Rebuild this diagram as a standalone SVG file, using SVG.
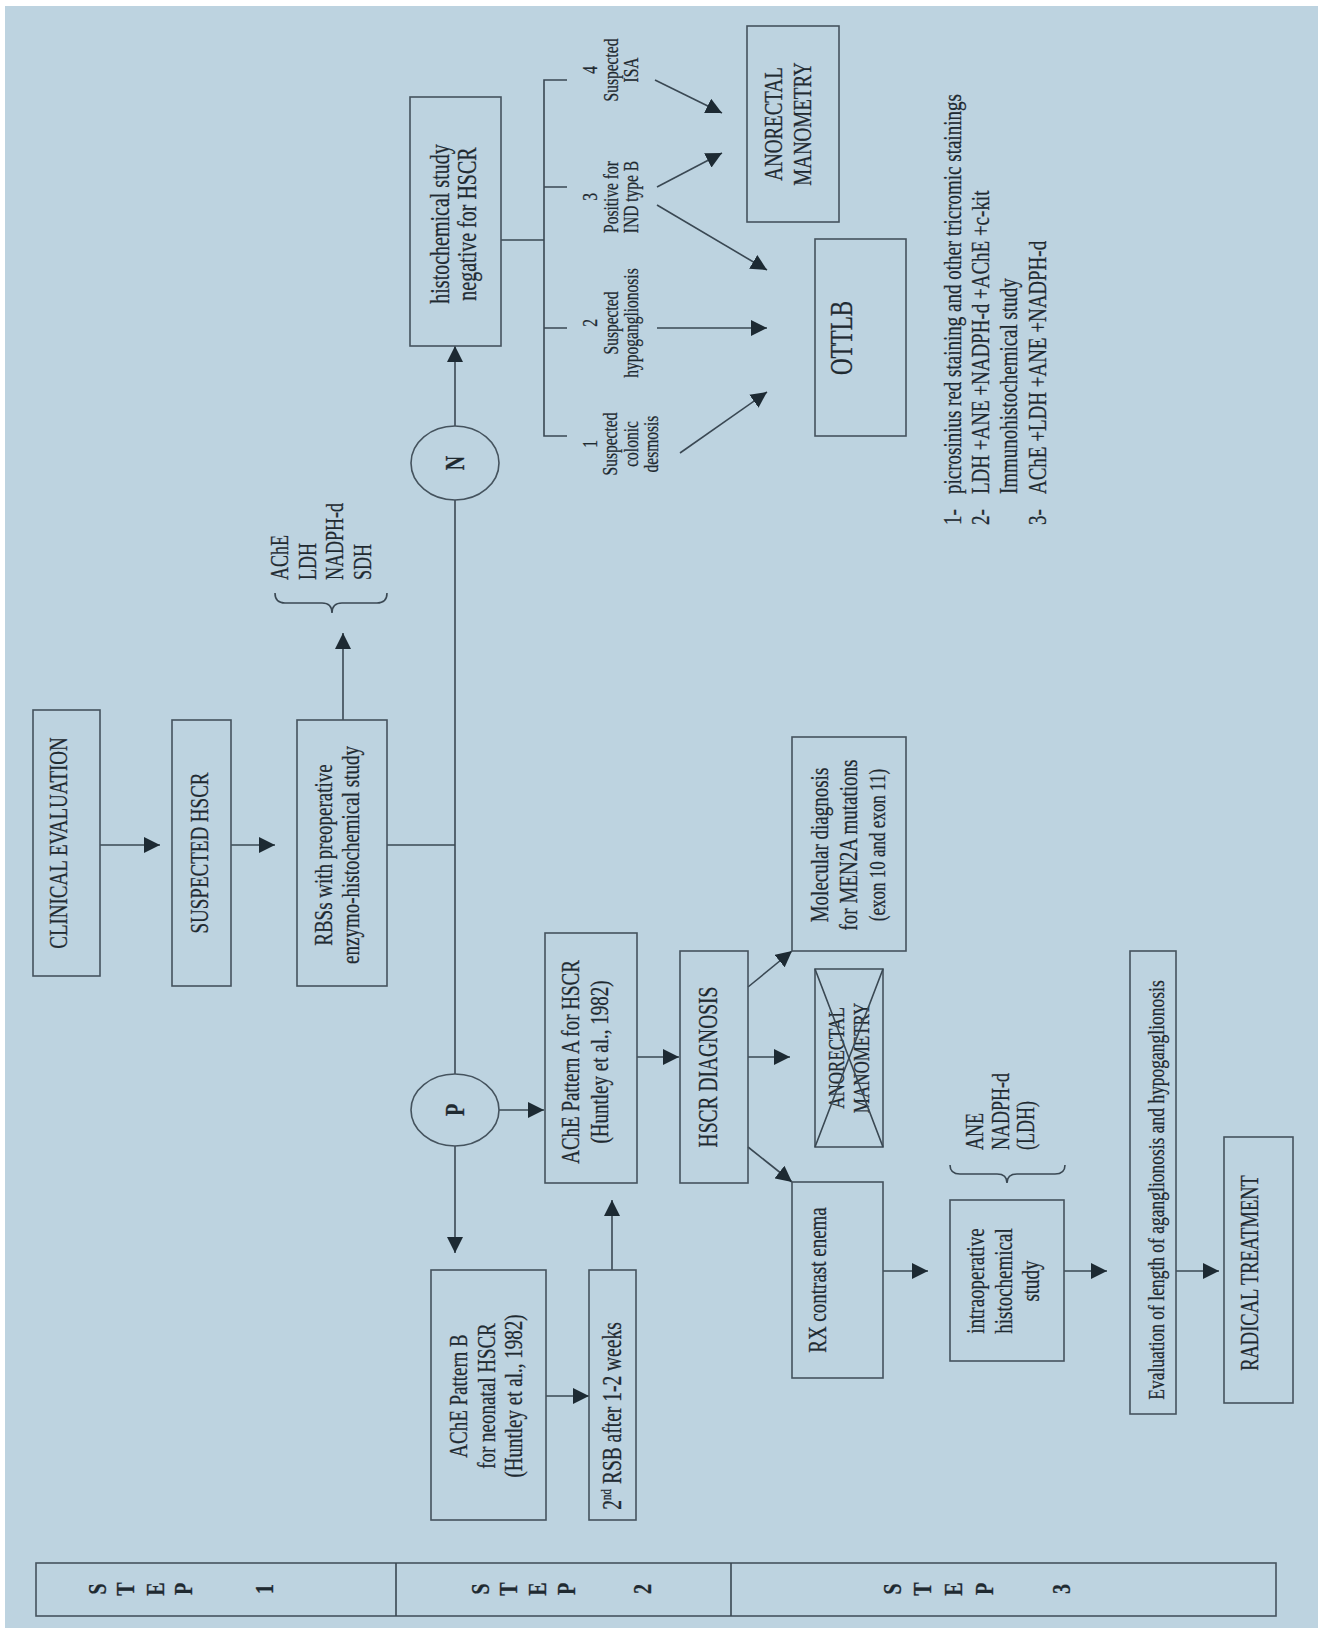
<svg xmlns="http://www.w3.org/2000/svg" width="1318" height="1628" viewBox="0 0 1318 1628">
<defs>
<style>
.bg{fill:#bdd3e0}
.box{fill:none;stroke:#45535e;stroke-width:1.6}
.ln{fill:none;stroke:#3a4853;stroke-width:1.6}
.t{font-family:"Liberation Serif","Times New Roman",serif;fill:#1f2a31;stroke:#1f2a31;stroke-width:0.2}
.b{font-weight:bold}
</style>
<marker id="ah" viewBox="0 0 16 16" refX="16" refY="8" markerWidth="16" markerHeight="16" markerUnits="userSpaceOnUse" orient="auto">
<path d="M0,0 L16,8 L0,16 Z" fill="#1d2a33"/>
</marker>
</defs>
<rect x="0" y="0" width="1318" height="1628" fill="#ffffff"/>
<rect class="bg" x="5" y="6" width="1313" height="1622"/>

<g id="connectors">
<path class="ln" d="M100,845 H160" marker-end="url(#ah)"/>
<path class="ln" d="M231,845 H275" marker-end="url(#ah)"/>
<path class="ln" d="M343,720 V633" marker-end="url(#ah)"/>
<path class="ln" d="M387,845 H455"/>
<path class="ln" d="M455,500 V1074"/>
<path class="ln" d="M455,426 V346" marker-end="url(#ah)"/>
<path class="ln" d="M501,240 H544"/>
<path class="ln" d="M567,80 H544 V436 H567 M544,187 H567 M544,328 H567"/>
<path class="ln" d="M655,80 L722,113" marker-end="url(#ah)"/>
<path class="ln" d="M657,187 L722,153" marker-end="url(#ah)"/>
<path class="ln" d="M657,205 L767,270" marker-end="url(#ah)"/>
<path class="ln" d="M657,328 H767" marker-end="url(#ah)"/>
<path class="ln" d="M680,453 L767,392" marker-end="url(#ah)"/>
<path class="ln" d="M455,1146 V1253" marker-end="url(#ah)"/>
<path class="ln" d="M499,1110 H544" marker-end="url(#ah)"/>
<path class="ln" d="M546,1396 H589" marker-end="url(#ah)"/>
<path class="ln" d="M612,1270 V1200" marker-end="url(#ah)"/>
<path class="ln" d="M637,1057 H679" marker-end="url(#ah)"/>
<path class="ln" d="M748,1057 H790" marker-end="url(#ah)"/>
<path class="ln" d="M748,987 L792,951" marker-end="url(#ah)"/>
<path class="ln" d="M748,1147 L792,1182" marker-end="url(#ah)"/>
<path class="ln" d="M883,1271 H928" marker-end="url(#ah)"/>
<path class="ln" d="M1064,1271 H1107" marker-end="url(#ah)"/>
<path class="ln" d="M1176,1271 H1219" marker-end="url(#ah)"/>
<path class="ln" d="M275,593 Q275,603 285,603 L322,603 Q332,603 332,613 Q332,603 342,603 L377,603 Q387,603 387,593"/>
<path class="ln" d="M950,1165 Q950,1174 960,1174 L997,1174 Q1007,1174 1007,1183 Q1007,1174 1017,1174 L1055,1174 Q1065,1174 1065,1165"/>
</g>

<g id="clinical-evaluation">
<rect class="box" x="33" y="710" width="67" height="266"/>
<text class="t" font-size="19" text-anchor="middle" transform="translate(58,843) rotate(-90) scale(1,1.35)"><tspan x="0" y="6.3">CLINICAL EVALUATION</tspan></text>
</g>

<g id="suspected-hscr">
<rect class="box" x="172" y="720" width="59" height="266"/>
<text class="t" font-size="19" text-anchor="middle" transform="translate(199,853) rotate(-90) scale(1,1.35)"><tspan x="0" y="6.3">SUSPECTED HSCR</tspan></text>
</g>

<g id="rbss">
<rect class="box" x="297" y="720" width="90" height="266"/>
<text class="t" font-size="19" text-anchor="middle" transform="translate(337,855) rotate(-90) scale(1,1.35)"><tspan x="0" y="-3.7">RBSs with preoperative</tspan><tspan x="0" y="16.3">enzymo-histochemical study</tspan></text>
</g>

<g id="enzymes-1">
<text class="t" font-size="18" text-anchor="start" transform="translate(280,580) rotate(-90) scale(1,1.35)"><tspan x="0" y="5.9">AChE</tspan><tspan x="0" y="26.4">LDH</tspan><tspan x="0" y="46.9">NADPH-d</tspan><tspan x="0" y="67.4">SDH</tspan></text>
</g>

<g id="node-n">
<ellipse class="box" cx="455" cy="463" rx="44" ry="37"/>
<text class="t b" font-size="20" text-anchor="middle" transform="translate(455,463) rotate(-90) scale(1,1.35)"><tspan x="0" y="6.6">N</tspan></text>
</g>

<g id="histochemical-negative">
<rect class="box" x="410" y="97" width="91" height="249"/>
<text class="t" font-size="20" text-anchor="middle" transform="translate(454,224) rotate(-90) scale(1,1.35)"><tspan x="0" y="-3.4">histochemical study</tspan><tspan x="0" y="16.6">negative for HSCR</tspan></text>
</g>

<g id="label-4">
<text class="t" font-size="15.5" text-anchor="middle" transform="translate(611,70) rotate(-90) scale(1,1.3)"><tspan x="0" y="-10.6">4</tspan><tspan x="0" y="5.1">Suspected</tspan><tspan x="0" y="20.8">ISA</tspan></text>
</g>
<g id="label-3">
<text class="t" font-size="15.5" text-anchor="middle" transform="translate(611,197) rotate(-90) scale(1,1.3)"><tspan x="0" y="-10.6">3</tspan><tspan x="0" y="5.1">Positive for</tspan><tspan x="0" y="20.8">IND type B</tspan></text>
</g>
<g id="label-2">
<text class="t" font-size="15.5" text-anchor="middle" transform="translate(611,323) rotate(-90) scale(1,1.3)"><tspan x="0" y="-10.6">2</tspan><tspan x="0" y="5.1">Suspected</tspan><tspan x="0" y="20.8">hypoganglionosis</tspan></text>
</g>
<g id="label-1">
<text class="t" font-size="15.5" text-anchor="middle" transform="translate(621,444) rotate(-90) scale(1,1.3)"><tspan x="0" y="-18.4">1</tspan><tspan x="0" y="-2.7">Suspected</tspan><tspan x="0" y="13">colonic</tspan><tspan x="0" y="28.7">desmosis</tspan></text>
</g>

<g id="anorectal-manometry">
<rect class="box" x="747" y="26" width="92" height="196"/>
<text class="t" font-size="19" text-anchor="middle" transform="translate(788,124) rotate(-90) scale(1,1.35)"><tspan x="0" y="-4.7">ANORECTAL</tspan><tspan x="0" y="17.3">MANOMETRY</tspan></text>
</g>

<g id="ottlb">
<rect class="box" x="815" y="239" width="91" height="197"/>
<text class="t" font-size="23" text-anchor="middle" transform="translate(842,338) rotate(-90) scale(1,1.35)"><tspan x="0" y="7.6">OTTLB</tspan></text>
</g>

<g id="footnotes">
<text class="t" font-size="19" text-anchor="start" transform="translate(952,525) rotate(-90) scale(1,1.35)"><tspan x="0" y="6.3">1-</tspan><tspan x="31" y="6.3">picrosinius red staining and other tricromic stainings</tspan><tspan x="0" y="27.3">2-</tspan><tspan x="31" y="27.3">LDH +ANE +NADPH-d +AChE +c-kit</tspan><tspan x="31" y="48.3">Immunohistochemical study</tspan><tspan x="0" y="69.3">3-</tspan><tspan x="31" y="69.3">AChE +LDH +ANE +NADPH-d</tspan></text>
</g>

<g id="node-p">
<ellipse class="box" cx="455" cy="1110" rx="44" ry="36"/>
<text class="t b" font-size="20" text-anchor="middle" transform="translate(455,1110) rotate(-90) scale(1,1.35)"><tspan x="0" y="6.6">P</tspan></text>
</g>

<g id="pattern-a">
<rect class="box" x="545" y="933" width="92" height="250"/>
<text class="t" font-size="19" text-anchor="middle" transform="translate(585,1062) rotate(-90) scale(1,1.35)"><tspan x="0" y="-4.7">AChE Pattern A for HSCR</tspan><tspan x="0" y="17.3">(Huntley et al., 1982)</tspan></text>
</g>

<g id="pattern-b">
<rect class="box" x="431" y="1270" width="115" height="250"/>
<text class="t" font-size="19" text-anchor="middle" transform="translate(486,1396) rotate(-90) scale(1,1.35)"><tspan x="0" y="-14.1">AChE Pattern B</tspan><tspan x="0" y="6.3">for neonatal HSCR</tspan><tspan x="0" y="26.7">(Huntley et al., 1982)</tspan></text>
</g>

<g id="second-rsb">
<rect class="box" x="589" y="1270" width="47" height="250"/>
<text class="t" font-size="19.5" text-anchor="middle" transform="translate(612,1416) rotate(-90) scale(1,1.35)"><tspan x="0" y="6.4">2</tspan><tspan font-size="11" dy="-7.5">nd</tspan><tspan dy="7.5"> RSB after 1-2 weeks</tspan></text>
</g>

<g id="hscr-diagnosis">
<rect class="box" x="680" y="951" width="68" height="232"/>
<text class="t" font-size="19.5" text-anchor="middle" transform="translate(708,1067) rotate(-90) scale(1,1.35)"><tspan x="0" y="6.4">HSCR DIAGNOSIS</tspan></text>
</g>

<g id="molecular-diagnosis">
<rect class="box" x="792" y="737" width="114" height="214"/>
<text class="t" font-size="19" text-anchor="middle" transform="translate(848,845) rotate(-90) scale(1,1.35)"><tspan x="0" y="-14.7">Molecular diagnosis</tspan><tspan x="0" y="6.3">for MEN2A mutations</tspan><tspan x="0" y="27.3" font-size="17">(exon 10 and exon 11)</tspan></text>
</g>

<g id="anorectal-manometry-crossed">
<rect class="box" x="815" y="969" width="68" height="178"/>
<text class="t" font-size="17" text-anchor="middle" transform="translate(849,1058) rotate(-90) scale(1,1.35)"><tspan x="0" y="-3.9">ANORECTAL</tspan><tspan x="0" y="15.1">MANOMETRY</tspan></text>
<path class="ln" d="M815,969 L883,1147 M883,969 L815,1147"/>
</g>

<g id="rx-contrast-enema">
<rect class="box" x="792" y="1182" width="91" height="196"/>
<text class="t" font-size="19" text-anchor="middle" transform="translate(817,1280) rotate(-90) scale(1,1.35)"><tspan x="0" y="6.3">RX contrast enema</tspan></text>
</g>

<g id="enzymes-2">
<text class="t" font-size="18" text-anchor="start" transform="translate(975,1150) rotate(-90) scale(1,1.35)"><tspan x="0" y="5.9">ANE</tspan><tspan x="0" y="24.9">NADPH-d</tspan><tspan x="0" y="43.9">(LDH)</tspan></text>
</g>

<g id="intraoperative">
<rect class="box" x="950" y="1200" width="114" height="161"/>
<text class="t" font-size="19" text-anchor="middle" transform="translate(1003,1281) rotate(-90) scale(1,1.35)"><tspan x="0" y="-14.4">intraoperative</tspan><tspan x="0" y="6.3">histochemical</tspan><tspan x="0" y="27">study</tspan></text>
</g>

<g id="evaluation">
<rect class="box" x="1130" y="951" width="46" height="463"/>
<text class="t" font-size="17.5" text-anchor="middle" transform="translate(1156,1190) rotate(-90) scale(1,1.35)"><tspan x="0" y="5.8">Evaluation of length of aganglionosis and hypoganglionosis</tspan></text>
</g>

<g id="radical-treatment">
<rect class="box" x="1224" y="1137" width="69" height="266"/>
<text class="t" font-size="18.5" text-anchor="middle" transform="translate(1250,1273) rotate(-90) scale(1,1.35)"><tspan x="0" y="6.1">RADICAL TREATMENT</tspan></text>
</g>

<g id="step-bar">
<rect class="box" x="36" y="1563" width="1240" height="53"/>
<path class="ln" d="M396,1563 V1616 M731,1563 V1616"/>
<g class="t b" font-size="20" text-anchor="middle">
<text transform="translate(97,1589) rotate(-90) scale(1,1.3)" y="7">S</text>
<text transform="translate(125,1589) rotate(-90) scale(1,1.3)" y="7">T</text>
<text transform="translate(155,1589) rotate(-90) scale(1,1.3)" y="7">E</text>
<text transform="translate(183,1589) rotate(-90) scale(1,1.3)" y="7">P</text>
<text transform="translate(264,1589) rotate(-90) scale(1,1.3)" y="7">1</text>
<text transform="translate(480,1589) rotate(-90) scale(1,1.3)" y="7">S</text>
<text transform="translate(508,1589) rotate(-90) scale(1,1.3)" y="7">T</text>
<text transform="translate(537,1589) rotate(-90) scale(1,1.3)" y="7">E</text>
<text transform="translate(566,1589) rotate(-90) scale(1,1.3)" y="7">P</text>
<text transform="translate(642,1589) rotate(-90) scale(1,1.3)" y="7">2</text>
<text transform="translate(892,1589) rotate(-90) scale(1,1.3)" y="7">S</text>
<text transform="translate(922,1589) rotate(-90) scale(1,1.3)" y="7">T</text>
<text transform="translate(953,1589) rotate(-90) scale(1,1.3)" y="7">E</text>
<text transform="translate(984,1589) rotate(-90) scale(1,1.3)" y="7">P</text>
<text transform="translate(1061,1589) rotate(-90) scale(1,1.3)" y="7">3</text>
</g>
</g>
</svg>
